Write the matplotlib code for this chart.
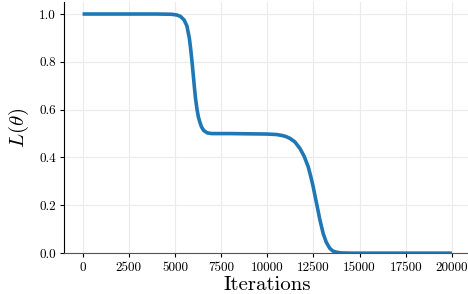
import numpy as np
import matplotlib
matplotlib.use('Agg')
import matplotlib.pyplot as plt

plt.rcParams['font.family'] = 'serif'
plt.rcParams['font.serif'] = ['cmr10']
plt.rcParams['mathtext.fontset'] = 'cm'
plt.rcParams['axes.formatter.use_mathtext'] = True

# values
iterations = [0, 1000, 2000, 3000, 4000, 4800, 5100, 5300, 5500, 5650, 5780,
              5860, 5940, 6000, 6060, 6120, 6200, 6270, 6350, 6440, 6560,
              6750, 7000, 8000, 9000, 10000, 10500, 10800, 11000, 11230,
              11500, 11770, 12000, 12220, 12360, 12490, 12600, 12710, 12850,
              13030, 13200, 13390, 13550, 13750, 14000, 14500, 16000, 18000,
              20000]
loss = [1.0, 1.0, 1.0, 1.0, 1.0, 0.999, 0.996, 0.99, 0.975, 0.95, 0.9,
        0.85, 0.79, 0.74, 0.69, 0.645, 0.6, 0.57, 0.548, 0.528, 0.513,
        0.503, 0.5, 0.5, 0.499, 0.498, 0.496, 0.492, 0.488, 0.48,
        0.465, 0.438, 0.405, 0.361, 0.32, 0.277, 0.235, 0.194, 0.14,
        0.082, 0.045, 0.02, 0.009, 0.004, 0.001, 0.0, 0.0, 0.0, 0.0]

xticks = [0, 2500, 5000, 7500, 10000, 12500, 15000, 17500, 20000]
yticks = [0.0, 0.2, 0.4, 0.6, 0.8, 1.0]

fig = plt.figure(figsize=(4.68, 2.94), dpi=100)
ax = fig.add_axes([0.137, 0.139, 0.868, 0.854])
ax.plot(iterations, loss, color='#1f77b4', lw=2.6, solid_capstyle='butt')

ax.set_xlim(-1000, 21000)
ax.set_ylim(0, 1.05)
ax.set_xticks(xticks)
ax.set_yticks(yticks)
ax.set_xticklabels([str(t) for t in xticks], fontsize=9.5)
ax.set_yticklabels([f'{t:.1f}' for t in yticks], fontsize=9.5)
ax.tick_params(length=3, width=0.8, pad=3)
ax.grid(True, color='#ebebeb', lw=0.8)
ax.set_axisbelow(True)
ax.spines['top'].set_visible(False)
ax.spines['right'].set_visible(False)
ax.spines['bottom'].set_color('#555555')
ax.set_xlabel('Iterations', fontsize=15, labelpad=2)
ax.set_ylabel(r'$L(\theta)$', fontsize=15, labelpad=6)

fig.savefig('out.png', dpi=100)
